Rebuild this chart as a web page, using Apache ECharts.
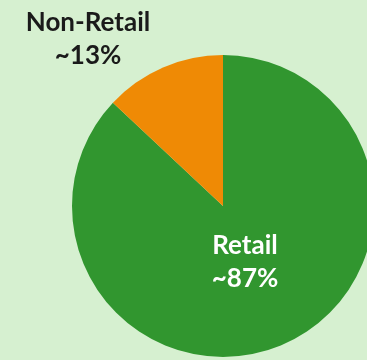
<!DOCTYPE html>
<html>
<head>
<meta charset="utf-8">
<script src="https://cdn.jsdelivr.net/npm/echarts@6/dist/echarts.min.js"></script>
<style>
  html, body { margin: 0; padding: 0; background: #d6f0d0; }
  #chart { width: 367px; height: 360px; }
</style>
</head>
<body>
<div id="chart"></div>
<script>
// Segment names, shares (%) and slice colours
const categories = ['Retail', 'Non-Retail'];
const shares = [87, 13];
const sliceColors = ['#31962f', '#ef8a05'];

const chart = echarts.init(document.getElementById('chart'), null, { renderer: 'canvas' });

// Where each label sits: Retail inside its slice, Non-Retail above-left of the pie
const labelSpots = [
  { x: 245, y: 262, color: '#ffffff' },
  { x: 88, y: 39, color: '#1a1a1a' }
];

chart.setOption({
  backgroundColor: '#d6f0d0',
  animation: false,
  series: [{
    type: 'pie',
    center: [223, 206],
    radius: 151,
    startAngle: 90,
    clockwise: true,
    avoidLabelOverlap: false,
    silent: true,
    labelLine: { show: false },
    label: {
      show: true,
      position: 'inside',
      fontFamily: 'Lato',
      fontWeight: 'bold',
      fontSize: 26,
      lineHeight: 33,
      align: 'center',
      formatter: p => p.name + '\n~' + p.value + '%'
    },
    labelLayout: p => ({
      x: labelSpots[p.dataIndex].x,
      y: labelSpots[p.dataIndex].y,
      align: 'center',
      verticalAlign: 'middle'
    }),
    data: categories.map((name, i) => ({
      name: name,
      value: shares[i],
      itemStyle: { color: sliceColors[i], borderWidth: 0 },
      label: { color: labelSpots[i].color }
    }))
  }]
});
</script>
</body>
</html>
